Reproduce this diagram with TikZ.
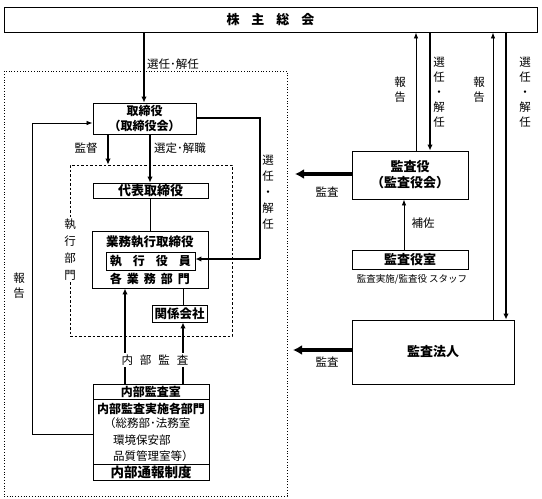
\documentclass[tikz,border=0pt]{standalone}
\usepackage{fontspec}
\setmainfont{Noto Sans CJK JP}
\usetikzlibrary{arrows.meta}
\tikzset{
  box/.style={draw, line width=0.9pt, inner sep=0pt, align=center, font=\bfseries\fontsize{12}{15}\selectfont},
  txt/.style={inner sep=0pt, font=\fontsize{11.5}{13}\selectfont},
  btxt/.style={inner sep=0pt, font=\bfseries\fontsize{12}{14}\selectfont},
  vtxt/.style={inner sep=0pt, align=center, font=\fontsize{11.5}{#1}\selectfont},
  tarr/.style={line width=0.8pt, -{Latex[length=6pt,width=4.5pt]}},
  karr/.style={line width=2.2pt, -{Latex[length=6pt,width=5.5pt]}},
  barr/.style={line width=4pt, -{Latex[length=9pt,width=10pt]}},
  tline/.style={line width=0.8pt},
  kline/.style={line width=2.2pt},
}
\begin{document}
\begin{tikzpicture}[x=1pt,y=-1pt]
\useasboundingbox (0,0) rectangle (542,499);
% boxes
\node[box, minimum width=533pt, minimum height=25pt, font=\bfseries\fontsize{13}{15}\selectfont] (gm) at (270.5,19.5) {株\hspace{12pt}主\hspace{12pt}総\hspace{12pt}会};
\node[draw, dotted, line width=0.8pt, minimum width=283pt, minimum height=425pt, inner sep=0pt] (outer) at (145.5,283.5) {};
\node[box] (tori) at (144.5,118.5) [minimum width=103pt, minimum height=31pt] {取締役\\（取締役会）};
\node[draw, dashed, dash pattern=on 2.5pt off 2pt, line width=0.8pt, minimum width=162pt, minimum height=171pt, inner sep=0pt] (exec) at (151,250.5) {};
\node[box, font=\bfseries\fontsize{13}{15}\selectfont] (daihyo) at (150.5,190.5) [minimum width=115pt, minimum height=15pt] {代表取締役};
\node[box] (gyomu) at (150,259.5) [minimum width=116pt, minimum height=57pt] {};
\node[btxt, font=\bfseries\fontsize{12.5}{14}\selectfont] (gyomut) at (150,242) {業務執行取締役};
\node[box] (shikko) at (150.5,261) [minimum width=89pt, minimum height=18pt] {執\hspace{11pt}行\hspace{11pt}役\hspace{11pt}員};
\node[btxt] (kakubu) at (150,279) {各\hspace{5pt}業\hspace{5pt}務\hspace{5pt}部\hspace{5pt}門};
\node[box, font=\bfseries\fontsize{12.5}{14}\selectfont] (kankei) at (179.5,313.5) [minimum width=55pt, minimum height=17pt] {関係会社};
\node[box] (naibu) at (151,432) [minimum width=116pt, minimum height=96pt] {};
\draw[line width=0.9pt] (93,399) -- (209,399);
\draw[line width=0.9pt] (93,464) -- (209,464);
\node[btxt] (nb1) at (151,391.5) {内部監査室};
\node[btxt] (nb2) at (151,409) {内部監査実施各部門};
\node[txt, anchor=west] (nb3) at (104,423) {（総務部･法務室};
\node[txt, anchor=west] (nb4) at (113,440) {環境保安部};
\node[txt, anchor=west] (nb5) at (113,456) {品質管理室等）};
\node[btxt, font=\bfseries\fontsize{13.5}{15}\selectfont] (nb6) at (151,472.5) {内部通報制度};
\node[box, font=\bfseries\fontsize{13}{16}\selectfont] (kansa) at (410,175) [minimum width=116pt, minimum height=48pt] {監査役\\（監査役会）};
\node[box, font=\bfseries\fontsize{13}{15}\selectfont] (kshitsu) at (410,259.5) [minimum width=116pt, minimum height=19pt] {監査役室};
\node[txt, font=\fontsize{9.5}{11}\selectfont] (kstaff) at (412,279) {監査実施/監査役 スタッフ};
\node[box, font=\bfseries\fontsize{13}{15}\selectfont] (hojin) at (433,352) [minimum width=162pt, minimum height=64pt] {監査法人};
% helper coordinates for x positions
\coordinate (xa) at (144,0);
\coordinate (xb) at (108,0);
\coordinate (xc) at (150,0);
\coordinate (xd) at (125,0);
\coordinate (xe) at (183,0);
\coordinate (xf) at (416,0);
\coordinate (xg) at (430,0);
\coordinate (xh) at (493,0);
\coordinate (xi) at (506,0);
\coordinate (xj) at (404,0);
\coordinate (ya) at (0,118);
\coordinate (yb) at (0,259);
\coordinate (yc) at (0,434);
\coordinate (yd) at (0,123);
\coordinate (ye) at (0,174);
\coordinate (yf) at (0,350);
\coordinate (xk) at (260,0);
\coordinate (xl) at (32,0);
\coordinate (xm) at (295,0);
\coordinate (xn) at (293,0);
% connectors
\draw[karr] (gm.south -| xa) -- (tori.north -| xa);
\draw[kline] (tori.east |- ya) -- (xk |- ya) -- (xk |- yb);
\draw[karr] (xk |- yb) -- (shikko.east |- yb);
\draw[karr] (tori.south -| xb) -- (exec.north -| xb);
\draw[karr] (tori.south -| xc) -- (daihyo.north -| xc);
\draw[tline] (daihyo.south -| xc) -- (gyomu.north -| xc);
\draw[tline] (gyomu.south -| xe) -- (kankei.north -| xe);
\draw[karr] (naibu.north -| xd) -- (gyomu.south -| xd);
\draw[karr] (naibu.north -| xe) -- (kankei.south -| xe);
\node[txt, fill=white, inner sep=2pt] (naibulbl) at (155,360) {内\hspace{7pt}部\hspace{7pt}監\hspace{7pt}査};
\draw[tline] (naibu.west |- yc) -- (xl |- yc) -- (xl |- yd);
\draw[tarr] (xl |- yd) -- (tori.west |- yd);
\draw[barr] (kansa.west |- ye) -- (xm |- ye);
\draw[barr] (hojin.west |- yf) -- (xn |- yf);
\draw[tarr] (kansa.north -| xf) -- (gm.south -| xf);
\draw[karr] (gm.south -| xg) -- (kansa.north -| xg);
\draw[tarr] (hojin.north -| xh) -- (gm.south -| xh);
\draw[karr] (gm.south -| xi) -- (hojin.north -| xi);
\draw[tarr] (kshitsu.north -| xj) -- (kansa.south -| xj);
% labels
\node[txt, anchor=west] (l1) at (147,64) {選任･解任};
\node[txt] (l2) at (86,148) {監督};
\node[txt, anchor=west] (l3) at (154,148) {選定･解職};
\node[vtxt=16] (l4) at (268,192) {選\\任\\・\\解\\任};
\node[vtxt=17, fill=white, inner sep=1pt] (l5) at (70,250) {執\\行\\部\\門};
\node[vtxt=15] (l6) at (19,286) {報\\告};
\node[vtxt=15] (l7) at (400,90) {報\\告};
\node[vtxt=15] (l8) at (439,92) {選\\任\\・\\解\\任};
\node[vtxt=15] (l9) at (479,90) {報\\告};
\node[vtxt=15] (l10) at (525,92) {選\\任\\・\\解\\任};
\node[txt] (l11) at (327,192) {監査};
\node[txt] (l12) at (327,362) {監査};
\node[txt] (l13) at (423,223) {補佐};
\end{tikzpicture}
\end{document}
